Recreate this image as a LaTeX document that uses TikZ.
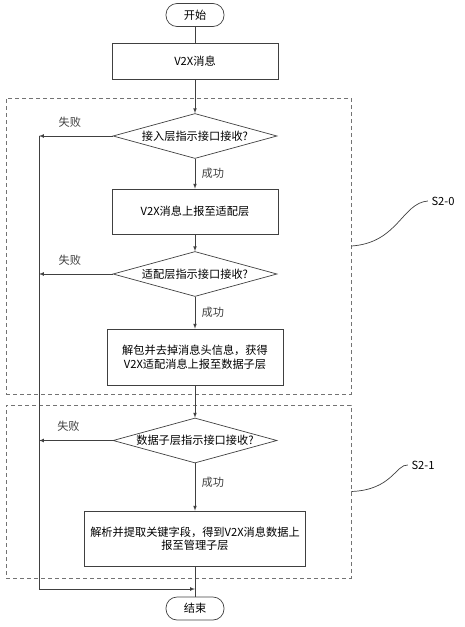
\documentclass[tikz,border=0pt]{standalone}
\usepackage{fontspec}
\newfontfamily\cjk{Noto Sans CJK SC}
\usetikzlibrary{positioning}
\usetikzlibrary{arrows,shapes.geometric}

\begin{document}
\begin{tikzpicture}[x=1pt,y=-1pt,on grid,>=latex,line width=0.7pt,
   font=\cjk\fontsize{11.2pt}{13.5pt}\selectfont,
   term/.style={draw=black!75,rounded corners=11pt,minimum width=58pt,minimum height=23pt,inner sep=0pt},
   proc/.style={draw=black!75,minimum width=166pt,minimum height=36pt,align=center,inner sep=2pt},
   cond/.style={draw=black!75,diamond,aspect=3.6,minimum width=164pt,minimum height=45pt,inner sep=0pt},
   group/.style={draw=black!55,dash pattern=on 4pt off 3pt,inner sep=0pt},
   flow/.style={->,black!75}]
   \useasboundingbox (0,0) rectangle (465,627);
   \node[group,minimum width=345pt,minimum height=296pt] (g1) at (178.5,246) {};
   \node[group,minimum width=345pt,minimum height=173pt] (g2) at (178.5,491.5) {};
   \node[term] (start) at (195,15) {开始};
   \node[proc] (msg) [below=46pt of start] {V2X消息};
   \node[cond] (d1) [below=75pt of msg] {接入层指示接口接收?};
   \node[proc,minimum height=45pt] (b1) [below=75.5pt of d1] {V2X消息上报至适配层};
   \node[cond] (d2) [below=62.5pt of b1] {适配层指示接口接收?};
   \node[proc,minimum width=176pt,minimum height=56pt] (b2) [below=83pt of d2] {解包并去掉消息头信息，获得\\V2X适配消息上报至数据子层};
   \node[cond] (d3) [below=83.5pt of b2] {数据子层指示接口接收?};
   \node[proc,minimum width=221pt,minimum height=55pt] (b3) [below=98pt of d3] {解析并提取关键字段，得到V2X消息数据上\\报至管理子层};
   \node[term] (stop) [below=70pt of b3] {结束};
   \coordinate (rt) at (39,136);
   \coordinate (rb) at (39,589);
   \node (s20) at (443,201) {S2-0};
   \node (s21) at (423,465) {S2-1};
   \draw[black!75] (start) -- (msg);
   \draw[flow] (msg) -- (d1);
   \draw[flow] (d1) -- node[right=3pt] {成功} (b1);
   \draw[flow] (b1) -- (d2);
   \draw[flow] (d2) -- node[right=3pt] {成功} (b2);
   \draw[flow] (b2) -- (d3);
   \draw[flow] (d3) -- node[right=3pt,pos=0.4] {成功} (b3);
   \draw[black!75] (b3) -- (stop);
   \draw[flow] (d1.west) -- node[above=5pt,pos=0.58] {失败} (d1.west -| rt);
   \draw[flow] (d2.west) -- node[above=5pt,pos=0.58] {失败} (d2.west -| rt);
   \draw[flow] (d3.west) -- node[above=5pt,pos=0.6] {失败} (d3.west -| rt);
   \draw[black!75] (d1.west -| rt) -- (rb);
   \draw[flow] (rb) -- (rb -| stop);
   \draw[black!75] (g1.east) .. controls (398,243) and (402,203) .. (s20.west);
   \draw[black!75] (g2.east) .. controls (392,490) and (396,464) .. (s21.west);
 \end{tikzpicture}
\end{document}
